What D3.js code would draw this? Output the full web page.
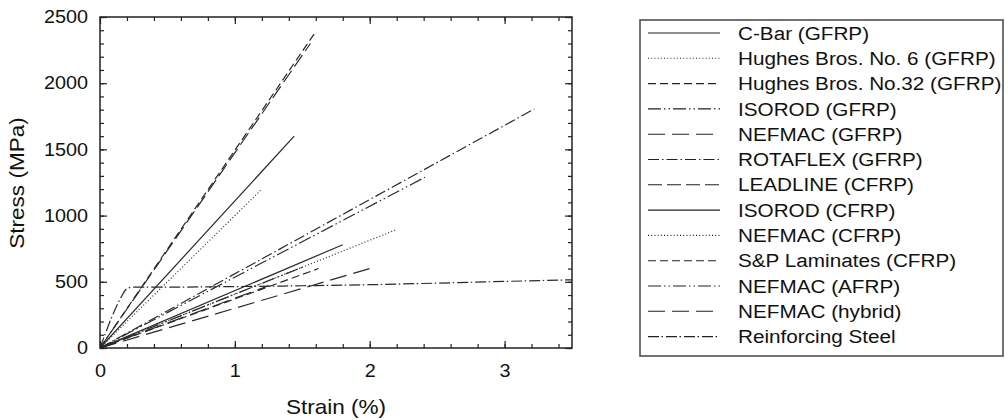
<!DOCTYPE html>
<html>
<head>
<meta charset="utf-8">
<script src="https://cdn.jsdelivr.net/npm/d3@7"></script>
<style>
  html, body { margin: 0; padding: 0; background: #fff; }
  svg { display: block; }
  text { font-family: "Liberation Sans", Arial, sans-serif; fill: #111; }
</style>
</head>
<body>
<svg id="chart" width="1008" height="420"></svg>
<script>
// Stress–strain behaviour of FRP bars and reinforcing steel
const materials = [
  "C-Bar (GFRP)", "Hughes Bros. No. 6 (GFRP)", "Hughes Bros. No.32 (GFRP)",
  "ISOROD (GFRP)", "NEFMAC (GFRP)", "ROTAFLEX (GFRP)", "LEADLINE (CFRP)",
  "ISOROD (CFRP)", "NEFMAC (CFRP)", "S&P Laminates (CFRP)", "NEFMAC (AFRP)",
  "NEFMAC (hybrid)", "Reinforcing Steel"
];
// Ultimate strain (%) and ultimate stress (MPa) of the linear-elastic FRP bars
const ultimateStrain = [1.80, 2.20, 1.62, 2.41, 2.00, 3.22, 1.56, 1.44, 1.19, 1.60, 1.50, 1.25];
const ultimateStress = [780, 895, 600, 1290, 600, 1805, 2300, 1600, 1190, 2390, 610, 470];
// Reinforcing steel curve (elastic branch, yield knee, strain hardening plateau)
const steelStrain = [0, 0.16, 0.19, 0.22, 0.26, 0.5, 1.0, 1.5, 2.0, 2.5, 3.0, 3.5];
const steelStress = [0, 390, 440, 456, 460, 460, 464, 470, 478, 490, 503, 515];
// Line dash patterns, one per legend entry
const dashes = [
  null, "1,2.2", "8,4", "13,3,1.5,3,1.5,3", "17,7", "11,3,1.5,3", "14,5",
  null, "1,2.2", "8,4", "13,3,1.5,3,1.5,3", "17,7", "11,2.5,1.5,3"
];
const xTicks = [0, 1, 2, 3];
const yTicks = [0, 500, 1000, 1500, 2000, 2500];

const svg = d3.select("#chart");
const pLeft = 100, pRight = 572, pTop = 17, pBottom = 348;
const x = d3.scaleLinear().domain([0, 3.5]).range([pLeft, pRight]);
const y = d3.scaleLinear().domain([0, 2500]).range([pBottom, pTop]);
const ink = "#222";
const lineInk = "#2a2a2a";
const stretch = 1.1;   // horizontal widening of the lettering

// Minor + major tick marks pointing inward on all four sides
const plot = svg.append("g");
const xMinor = d3.range(0.2, 3.5, 0.2);
const yMinor = d3.range(0, 2500.1, 100);
const fmt = d3.format("d");

const bAxis = d3.axisBottom(x).tickValues(xMinor).tickSizeInner(-4).tickSizeOuter(0).tickFormat("");
const bAxisMaj = d3.axisBottom(x).tickValues(xTicks).tickSizeInner(-7).tickSizeOuter(0).tickPadding(16).tickFormat(fmt);
const tAxis = d3.axisTop(x).tickValues(xMinor).tickSizeInner(-4).tickSizeOuter(0).tickFormat("");
const tAxisMaj = d3.axisTop(x).tickValues(xTicks).tickSizeInner(-7).tickSizeOuter(0).tickFormat("");
const lAxis = d3.axisLeft(y).tickValues(yMinor).tickSizeInner(-4).tickSizeOuter(0).tickFormat("");
const lAxisMaj = d3.axisLeft(y).tickValues(yTicks).tickSizeInner(-7).tickSizeOuter(0).tickPadding(11).tickFormat(fmt);
const rAxis = d3.axisRight(y).tickValues(yMinor).tickSizeInner(-4).tickSizeOuter(0).tickFormat("");
const rAxisMaj = d3.axisRight(y).tickValues(yTicks).tickSizeInner(-7).tickSizeOuter(0).tickFormat("");

function styleAxis(g) {
  g.select(".domain").remove();
  g.attr("font-size", null).attr("font-family", null);
  g.selectAll(".tick line").attr("stroke", ink).attr("stroke-width", 1.2);
  g.selectAll(".tick text")
    .style("font-size", "18px")
    .style("font-family", "'Liberation Sans', Arial, sans-serif")
    .attr("fill", "#111")
    .attr("transform", `scale(${stretch},1)`);
}
plot.append("g").attr("transform", `translate(0,${pBottom})`).call(bAxis).call(styleAxis);
plot.append("g").attr("transform", `translate(0,${pBottom})`).call(bAxisMaj).call(styleAxis);
plot.append("g").attr("transform", `translate(0,${pTop})`).call(tAxis).call(styleAxis);
plot.append("g").attr("transform", `translate(0,${pTop})`).call(tAxisMaj).call(styleAxis);
plot.append("g").attr("transform", `translate(${pLeft},0)`).call(lAxis).call(styleAxis);
plot.append("g").attr("transform", `translate(${pLeft},0)`).call(lAxisMaj).call(styleAxis);
plot.append("g").attr("transform", `translate(${pRight},0)`).call(rAxis).call(styleAxis);
plot.append("g").attr("transform", `translate(${pRight},0)`).call(rAxisMaj).call(styleAxis);

// Clip for curves
svg.append("clipPath").attr("id", "plotClip").append("rect")
  .attr("x", pLeft).attr("y", pTop).attr("width", pRight - pLeft).attr("height", pBottom - pTop);

const line = d3.line().x(d => x(d[0])).y(d => y(d[1]));
const curves = svg.append("g").attr("clip-path", "url(#plotClip)");

ultimateStrain.forEach((s, i) => {
  curves.append("path")
    .datum([[0, 0], [s, ultimateStress[i]]])
    .attr("d", line)
    .attr("fill", "none")
    .attr("stroke", lineInk)
    .attr("stroke-width", 1.2)
    .attr("stroke-dasharray", dashes[i]);
});
curves.append("path")
  .datum(steelStrain.map((s, i) => [s, steelStress[i]]))
  .attr("d", d3.line().x(d => x(d[0])).y(d => y(d[1])).curve(d3.curveMonotoneX))
  .attr("fill", "none")
  .attr("stroke", lineInk)
  .attr("stroke-width", 1.2)
  .attr("stroke-dasharray", dashes[12]);

// Plot frame
svg.append("rect").attr("x", pLeft).attr("y", pTop).attr("width", pRight - pLeft).attr("height", pBottom - pTop)
  .attr("fill", "none").attr("stroke", ink).attr("stroke-width", 1.5);

// Axis titles
svg.append("text").attr("transform", `translate(336,414) scale(${stretch},1)`)
  .attr("text-anchor", "middle").style("font-size", "20.5px").text("Strain (%)");
svg.append("text").attr("transform", `translate(24,183) rotate(-90) scale(${stretch},1)`)
  .attr("text-anchor", "middle").style("font-size", "20.5px").text("Stress (MPa)");

// Legend
const legend = svg.append("g");
legend.append("rect").attr("x", 640).attr("y", 20).attr("width", 363).attr("height", 336)
  .attr("fill", "#fff").attr("stroke", "#444").attr("stroke-width", 1.5);
materials.forEach((name, i) => {
  const cy = 33 + i * 25.3;
  legend.append("line").attr("x1", 648).attr("x2", 720).attr("y1", cy).attr("y2", cy)
    .attr("stroke", ink).attr("stroke-width", 1.1).attr("stroke-dasharray", dashes[i]);
  legend.append("text").attr("transform", `translate(738,${cy}) scale(1.09,1)`)
    .attr("dy", "0.35em").style("font-size", "19px").text(name);
});
</script>
</body>
</html>
